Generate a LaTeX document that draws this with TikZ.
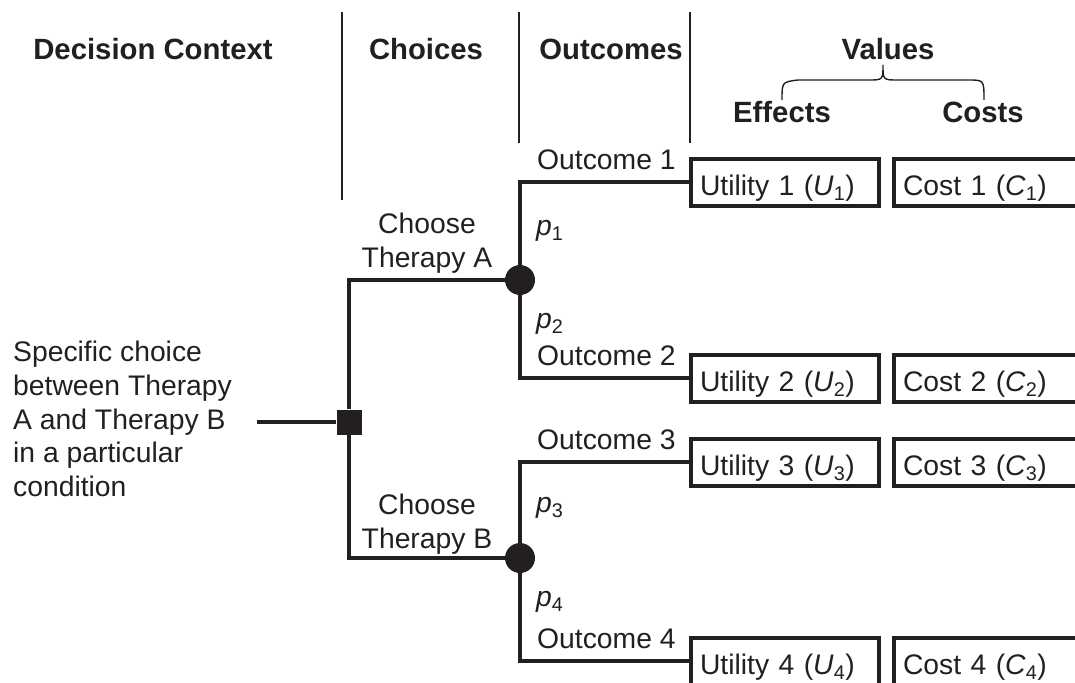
\documentclass[tikz,border=0pt]{standalone}
\usepackage{fontspec}
\setmainfont{Liberation Sans}
\definecolor{ink}{HTML}{231F20}
\begin{document}
\begin{tikzpicture}[x=1pt,y=-1pt,
  hdr/.style={font=\fontsize{29.3}{35}\selectfont\bfseries, inner sep=0pt, anchor=base, text=ink},
  lbl/.style={font=\fontsize{28.3}{33.8}\selectfont, inner sep=0pt, text=ink},
  rule/.style={draw=ink, line width=1.4pt},
  tree/.style={draw=ink, line width=3.2pt},
  valbox/.style={draw=ink, line width=4pt, minimum height=47pt, inner xsep=9pt, inner ysep=0pt,
    text height=30pt, text depth=4pt, align=left, font=\fontsize{28.3}{34}\selectfont, text=ink},
  ubox/.style={valbox, text width=170pt},
  cbox/.style={valbox, text width=188pt},
  decnode/.style={rectangle, fill=ink, minimum size=25pt, inner sep=0pt},
  chance/.style={circle, fill=ink, minimum size=30pt, inner sep=0pt}]
\useasboundingbox (0,0) rectangle (1075,682);

% column headings and separators
\node[hdr] (h1) at (153,60) {Decision Context};
\node[hdr] (h2) at (426,60) {Choices};
\node[hdr] (h3) at (611,60) {Outcomes};
\node[hdr] (h4) at (888,60) {Values};
\node[hdr] (h5) at (782,122) {Effects};
\node[hdr] (h6) at (983,122) {Costs};
\draw[rule] (342,12) -- (342,200);
\draw[rule] (519,12) -- (519,143);
\draw[rule] (690,12) -- (690,143);
% brace grouping effects and costs
\draw[draw=ink, line width=1.4pt] (782,100) .. controls (782,82) .. (798,80) -- (868,80)
  .. controls (883,80) .. (883,65) .. controls (883,80) .. (898,80) -- (968,80)
  .. controls (984,80) .. (984,100);

% decision context
\node[lbl, anchor=west, align=left] (ctx) at (13,419)
  {Specific choice\\between Therapy\\A and Therapy B\\in a particular\\condition};
\coordinate (rootend) at (257,422);

% tree nodes
\node[decnode] (dec) at (349,422) {};
\node[chance] (ca) at (520,280) {};
\node[chance] (cb) at (520,558) {};

% value boxes
\node[ubox] (u1) at (785,182) {Utility 1 (\textit{U}\textsubscript{1})};
\node[ubox] (u2) at (785,378) {Utility 2 (\textit{U}\textsubscript{2})};
\node[ubox] (u3) at (785,462) {Utility 3 (\textit{U}\textsubscript{3})};
\node[ubox] (u4) at (785,661) {Utility 4 (\textit{U}\textsubscript{4})};
\node[cbox] (k1) at (997,182) {Cost 1 (\textit{C}\textsubscript{1})};
\node[cbox] (k2) at (997,378) {Cost 2 (\textit{C}\textsubscript{2})};
\node[cbox] (k3) at (997,462) {Cost 3 (\textit{C}\textsubscript{3})};
\node[cbox] (k4) at (997,661) {Cost 4 (\textit{C}\textsubscript{4})};

% branches
\draw[tree] (rootend) -- (dec);
\draw[tree] (dec) |- (ca);
\draw[tree] (dec) |- (cb);
\draw[tree] (ca) |- (u1);
\draw[tree] (ca) |- (u2);
\draw[tree] (cb) |- (u3);
\draw[tree] (cb) |- (u4);

% branch labels
\node[lbl, align=center] (tA) at (427,243) {Choose\\Therapy A};
\node[lbl, align=center] (tB) at (427,524) {Choose\\Therapy B};
\node[lbl, anchor=base west] (o1) at (537,169) {Outcome 1};
\node[lbl, anchor=base west] (o2) at (537,365) {Outcome 2};
\node[lbl, anchor=base west] (o3) at (537,449) {Outcome 3};
\node[lbl, anchor=base west] (o4) at (537,648) {Outcome 4};
\node[lbl, anchor=base west] (p1) at (536,235) {\textit{p}\textsubscript{1}};
\node[lbl, anchor=base west] (p2) at (536,328) {\textit{p}\textsubscript{2}};
\node[lbl, anchor=base west] (p3) at (536,512) {\textit{p}\textsubscript{3}};
\node[lbl, anchor=base west] (p4) at (536,606) {\textit{p}\textsubscript{4}};
\end{tikzpicture}
\end{document}
